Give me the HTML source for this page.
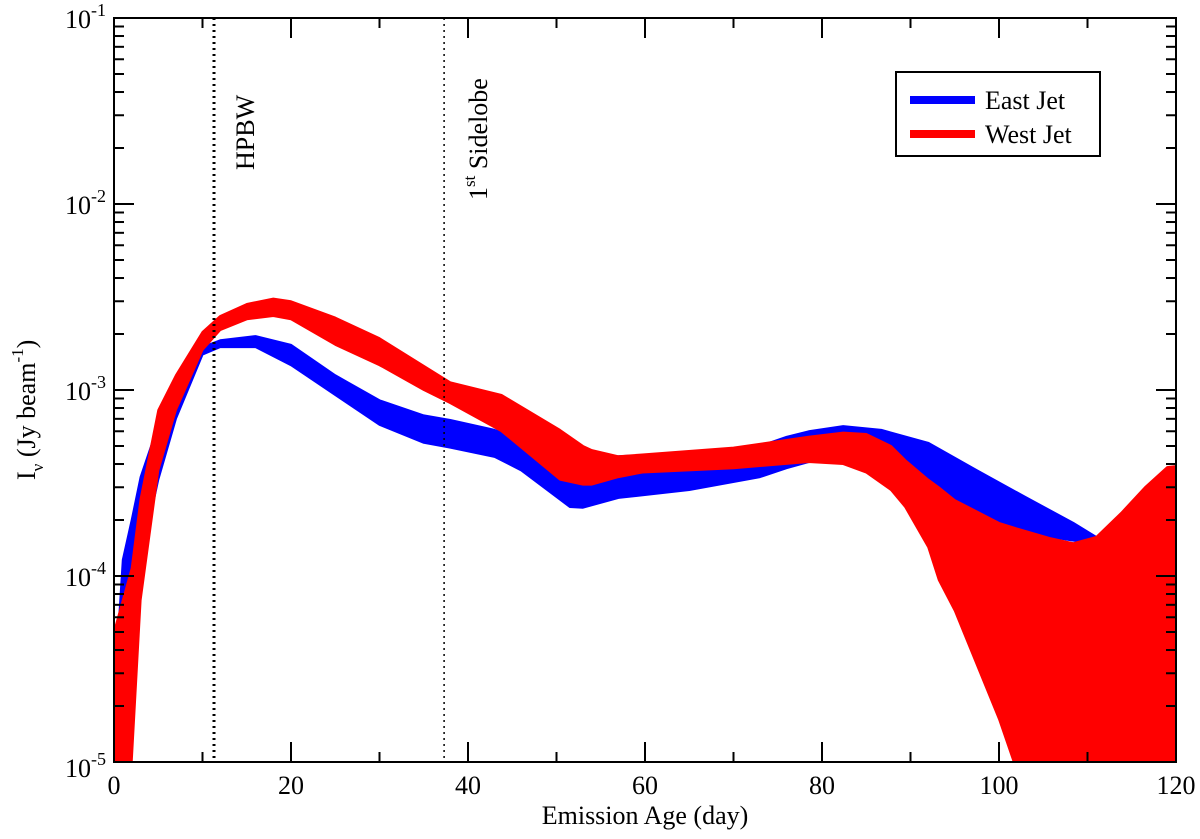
<!DOCTYPE html>
<html><head><meta charset="utf-8"><style>
body{margin:0;background:#fff}
svg text{font-family:"Liberation Serif",serif;fill:#000}
</style></head><body>
<svg id="c" width="1200" height="834" xmlns="http://www.w3.org/2000/svg">
<defs><clipPath id="clip"><rect x="114" y="18" width="1062" height="744"/></clipPath></defs>
<g id="bands" clip-path="url(#clip)"></g>
<g id="axes"></g>
</svg>
<script>
const eastX=[0,1,2,3,5,7,10,12,16,20,25,30,35,38,43,46,51.5,53,57,65,73,76,78.5,82.4,86.7,92,97.5,103,108.4,111,112];
const eastHi=[2.15e-5,1.22e-4,2e-4,3.4e-4,6.5e-4,9.4e-4,1.7e-3,1.85e-3,1.95e-3,1.75e-3,1.2e-3,8.8e-4,7.3e-4,6.9e-4,6.1e-4,5.5e-4,4.5e-4,4.3e-4,4.4e-4,4.6e-4,5.0e-4,5.6e-4,6.0e-4,6.4e-4,6.1e-4,5.2e-4,3.7e-4,2.66e-4,1.93e-4,1.62e-4,1.55e-4];
const eastLo=[1e-5,2.15e-5,5.8e-5,1.2e-4,3.3e-4,7.0e-4,1.55e-3,1.7e-3,1.7e-3,1.36e-3,9.4e-4,6.5e-4,5.2e-4,4.9e-4,4.37e-4,3.7e-4,2.35e-4,2.33e-4,2.63e-4,2.9e-4,3.4e-4,3.8e-4,4.1e-4,4.1e-4,4.0e-4,2.5e-4,2.0e-4,1.7e-4,1.55e-4,1.5e-4,1.55e-4];
const westX=[0,1,2,3,5,7,10,12,15,18,20,25,30,35,38,43.8,50.4,53,54,57,59.7,70,78.5,82.4,85,87.8,89.4,92,93.2,95,100,102,105.7,108.4,111,113.8,116.5,119,120];
const westHi=[5e-5,7.4e-5,1.1e-4,2.6e-4,7.8e-4,1.2e-3,2.05e-3,2.5e-3,2.9e-3,3.1e-3,3.0e-3,2.45e-3,1.9e-3,1.35e-3,1.1e-3,9.4e-4,6.1e-4,5.0e-4,4.75e-4,4.4e-4,4.5e-4,4.9e-4,5.6e-4,5.9e-4,5.8e-4,5.0e-4,4.2e-4,3.3e-4,3.0e-4,2.56e-4,1.93e-4,1.8e-4,1.6e-4,1.5e-4,1.62e-4,2.18e-4,3.0e-4,3.85e-4,3.9e-4];
const westLo=[1e-5,1e-5,1e-5,7.4e-5,3.7e-4,7.8e-4,1.64e-3,2.1e-3,2.4e-3,2.5e-3,2.4e-3,1.75e-3,1.36e-3,1.0e-3,8.5e-4,6.0e-4,3.3e-4,3.1e-4,3.1e-4,3.4e-4,3.6e-4,3.8e-4,4.1e-4,4.0e-4,3.6e-4,2.9e-4,2.35e-4,1.43e-4,9.5e-5,6.5e-5,1.7e-5,9e-6,5e-6,5e-6,5e-6,5e-6,5e-6,5e-6,5e-6];
const xTicks=[0,20,40,60,80,100,120];
const yExp=[-5,-4,-3,-2,-1];
const NS="http://www.w3.org/2000/svg";
const L=114,R=1176,T=18,B=762;
const sx=v=>L+(v/120)*(R-L);
const sy=v=>T+(-1-Math.log10(v))*(B-T)/4;
function mk(tag,at,parent){const e=document.createElementNS(NS,tag);for(const k in at)e.setAttribute(k,at[k]);parent.appendChild(e);return e;}
const bands=document.getElementById('bands'),axes=document.getElementById('axes');
function band(xs,hi,lo,color,name){
 let d=xs.map((x,i)=>(i?'L':'M')+sx(x).toFixed(1)+','+sy(hi[i]).toFixed(1)).join('');
 for(let i=xs.length-1;i>=0;i--)d+='L'+sx(xs[i]).toFixed(1)+','+sy(lo[i]).toFixed(1);
 const p=mk('path',{d:d+'Z',fill:color,stroke:color,'stroke-width':2,'stroke-linejoin':'round'},bands);
 
 
}
band(eastX,eastHi,eastLo,'#0000ff','east-jet-band');
band(westX,westHi,westLo,'#ff0000','west-jet-band');
const fr=mk('rect',{x:L,y:T,width:R-L,height:B-T,fill:'none',stroke:'#000','stroke-width':2},axes);


for(let v=0;v<=120;v+=10){const len=v%20?10:20;const X=sx(v);
 mk('line',{x1:X,y1:B,x2:X,y2:B-len,stroke:'#000','stroke-width':2},axes);
 mk('line',{x1:X,y1:T,x2:X,y2:T+len,stroke:'#000','stroke-width':2},axes);}
xTicks.forEach(v=>{const t=mk('text',{x:sx(v),y:B+32,'font-size':26,'text-anchor':'middle'},axes);t.textContent=v;
 
 });
yExp.forEach(e=>{const Y=sy(Math.pow(10,e));
 mk('line',{x1:L,y1:Y,x2:L+20,y2:Y,stroke:'#000','stroke-width':2},axes);
 mk('line',{x1:R,y1:Y,x2:R-20,y2:Y,stroke:'#000','stroke-width':2},axes);
 if(e<-1)for(let m=2;m<=9;m++){const y2=sy(m*Math.pow(10,e));
  mk('line',{x1:L,y1:y2,x2:L+10,y2:y2,stroke:'#000','stroke-width':2},axes);
  mk('line',{x1:R,y1:y2,x2:R-10,y2:y2,stroke:'#000','stroke-width':2},axes);}
 const t=mk('text',{x:L-8,y:Y+(e==-5?15:10),'font-size':26,'text-anchor':'end'},axes);
 t.innerHTML='10<tspan dy="-12" font-size="18">'+e+'</tspan>';
 
 });
[[11.3,'hpbw-line',3],[37.3,'sidelobe-line',1.5]].forEach(a=>{const l=mk('line',{x1:sx(a[0]),y1:T,x2:sx(a[0]),y2:B,stroke:'#000','stroke-width':a[2],'stroke-dasharray':'2,4'},axes);
 
 });
</script>
<svg width="1200" height="834" style="position:absolute;left:0;top:0" xmlns="http://www.w3.org/2000/svg">
<text x="254" y="170" font-size="26" transform="rotate(-90 254 170)">HPBW</text>
<text x="487" y="200" font-size="26" transform="rotate(-90 487 200)">1<tspan dy="-12" font-size="17">st</tspan><tspan dy="12"> Sidelobe</tspan></text>
<text x="35" y="480" font-size="26" transform="rotate(-90 35 480)">I<tspan dy="8" font-size="17">ν</tspan><tspan dy="-8">  (Jy beam</tspan><tspan dy="-12" font-size="17">-1</tspan><tspan dy="12">)</tspan></text>
<text x="645" y="824" font-size="26" text-anchor="middle">Emission Age (day)</text>
<g>
<rect x="896" y="72" width="204" height="84" fill="#fff" stroke="#000" stroke-width="2"/>
<line x1="910" y1="100" x2="975" y2="100" stroke="#0000ff" stroke-width="8"/>
<text x="985" y="109" font-size="26">East Jet</text>
<line x1="910" y1="134" x2="975" y2="134" stroke="#ff0000" stroke-width="8"/>
<text x="985" y="143" font-size="26">West Jet</text>
</g>
</svg>
</body></html>
